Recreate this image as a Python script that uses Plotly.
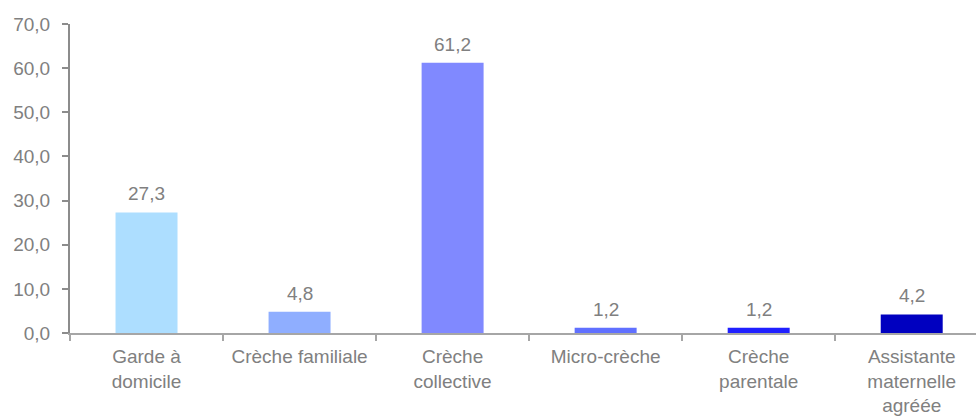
import plotly.graph_objects as go

categories = ["Garde à<br>domicile", "Crèche familiale", "Crèche<br>collective",
              "Micro-crèche", "Crèche<br>parentale", "Assistante<br>maternelle<br>agréée"]
values = [27.3, 4.8, 61.2, 1.2, 1.2, 4.2]
colors = ["#ADDEFF", "#8FAEFF", "#8089FF", "#6070FF", "#2020FF", "#0000C0"]
y_ticks = [0, 10, 20, 30, 40, 50, 60, 70]

font_family = "Liberation Sans, Arial, sans-serif"
text_color = "#808080"
fsize = 19

fig = go.Figure(go.Bar(
    x=categories,
    y=values,
    marker=dict(color=colors, line=dict(width=0)),
    width=0.405,
    hoverinfo="x+y",
))

for c, v in zip(categories, values):
    fig.add_annotation(
        x=c, y=v, text=f"{v:.1f}".replace(".", ","),
        showarrow=False, yanchor="bottom", xanchor="center", yshift=6,
        font=dict(family=font_family, size=fsize, color=text_color),
    )

fig.update_layout(
    width=976, height=416,
    margin=dict(l=70, r=0, t=24, b=81),
    paper_bgcolor="white", plot_bgcolor="white",
    separators=", ",
    showlegend=False,
    font=dict(family=font_family, size=fsize, color=text_color),
)

fig.update_xaxes(
    range=[-0.5, 5.42],
    showline=True, linecolor="#A6A6A6", linewidth=2,
    ticks="outside", tickson="boundaries", ticklen=6, tickcolor="#A6A6A6", tickwidth=2,
    showgrid=False, zeroline=False,
    tickfont=dict(family=font_family, size=fsize, color=text_color),
    ticklabelstandoff=5,
)
fig.update_yaxes(
    range=[0, 70],
    tickvals=y_ticks, tickformat=".1f",
    showline=True, linecolor="#8C8C8C", linewidth=2,
    ticks="outside", ticklen=6, tickcolor="#8C8C8C", tickwidth=2,
    showgrid=False, zeroline=False,
    tickfont=dict(family=font_family, size=fsize, color=text_color),
    ticklabelstandoff=8,
)

fig.write_html("out.html")
